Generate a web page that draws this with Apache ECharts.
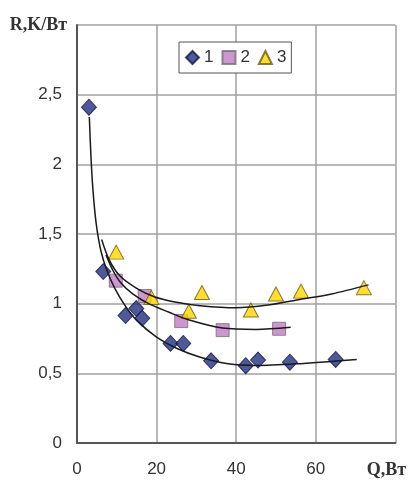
<!DOCTYPE html>
<html>
<head>
<meta charset="utf-8">
<script src="https://cdn.jsdelivr.net/npm/echarts@6/dist/echarts.min.js"></script>
<style>
  html, body { margin: 0; padding: 0; background: #fff; }
  #chart { width: 409px; height: 480px; }
</style>
</head>
<body>
<div id="chart"></div>
<script>
// Measured points: thermal resistance R (K/W) versus heat load Q (W)
var q1 = [3, 6.6, 12.2, 14.9, 16.4, 23.5, 26.7, 33.7, 42.4, 45.5, 53.5, 65.0];
var r1 = [2.41, 1.23, 0.915, 0.965, 0.895, 0.715, 0.715, 0.59, 0.555, 0.595, 0.58, 0.60];

var q2 = [9.75, 17.0, 26.2, 36.6, 50.8];
var r2 = [1.165, 1.055, 0.875, 0.81, 0.82];

var q3 = [9.85, 18.7, 28.1, 31.4, 43.7, 50.0, 56.3, 72.1];
var r3 = [1.37, 1.045, 0.945, 1.08, 0.955, 1.07, 1.09, 1.115];

// Approximating curves for each data set
var t1q = [3.1, 3.5, 4.0, 4.8, 6.0, 7.5, 9.5, 12, 15, 20, 25, 31, 38, 45, 55, 70.3];
var t1r = [2.34, 2.06, 1.82, 1.58, 1.38, 1.24, 1.11, 0.99, 0.88, 0.76, 0.68, 0.615, 0.568, 0.556, 0.568, 0.60];

var t2q = [7.3, 9, 11, 14, 18, 23, 28, 36.6, 45, 53.7];
var t2r = [1.35, 1.24, 1.15, 1.07, 1.0, 0.94, 0.885, 0.825, 0.815, 0.83];

var t3q = [6.2, 8, 10.75, 15, 19.4, 25, 31, 40, 48, 56, 64, 73.25];
var t3r = [1.46, 1.32, 1.2, 1.11, 1.05, 1.01, 0.985, 0.97, 0.99, 1.03, 1.07, 1.135];

var seriesNames = ['1', '2', '3'];
var xTicks = [0, 20, 40, 60, 80];
var yTicks = [0, 0.5, 1, 1.5, 2, 2.5, 3];

function pairs(xs, ys) {
  return xs.map(function (x, i) { return [x, ys[i]]; });
}

function trend(xs, ys) {
  return {
    type: 'line',
    data: pairs(xs, ys),
    showSymbol: false,
    smooth: 0.3,
    lineStyle: { color: '#1a1a1a', width: 1.5 },
    z: 5,
    silent: true
  };
}

var chart = echarts.init(document.getElementById('chart'), null, { renderer: 'canvas' });

chart.setOption({
  animation: false,
  backgroundColor: '#ffffff',
  grid: { left: 77, right: 12, top: 25, bottom: 37 },
  legend: {
    data: seriesNames,
    left: 179,
    top: 42,
    padding: [7, 5, 7, 6],
    itemGap: 8,
    itemWidth: 13,
    itemHeight: 13,
    borderColor: '#555',
    borderWidth: 1,
    backgroundColor: '#fff',
    textStyle: { fontFamily: 'Liberation Sans', fontSize: 17, color: '#333' }
  },
  xAxis: {
    type: 'value',
    min: xTicks[0],
    max: xTicks[xTicks.length - 1],
    interval: 20,
    axisLine: { show: true, onZero: false, lineStyle: { color: '#555', width: 2 } },
    axisTick: { show: false },
    splitLine: { show: true, lineStyle: { color: '#a0a0a0', width: 1.5 } },
    axisLabel: {
      margin: 18,
      fontFamily: 'Liberation Sans',
      fontSize: 17,
      color: '#333',
      formatter: function (v) {
        return v === 80 ? '{n|Q,Вт}' : String(v);
      },
      rich: {
        n: { fontFamily: 'Liberation Serif', fontWeight: 'bold', fontSize: 18, color: '#333', padding: [0, 18, 0, 0] }
      }
    }
  },
  yAxis: {
    type: 'value',
    min: yTicks[0],
    max: yTicks[yTicks.length - 1],
    interval: 0.5,
    name: 'R,K/Вт',
    nameLocation: 'end',
    nameGap: 0,
    nameTextStyle: {
      fontFamily: 'Liberation Serif',
      fontWeight: 'bold',
      fontSize: 18,
      color: '#333',
      align: 'right',
      verticalAlign: 'middle',
      padding: [0, 10, 0, 0]
    },
    axisLine: { show: true, onZero: false, lineStyle: { color: '#555', width: 2 } },
    axisTick: { show: false },
    splitLine: { show: true, lineStyle: { color: '#a0a0a0', width: 1.5 } },
    axisLabel: {
      margin: 15,
      fontFamily: 'Liberation Sans',
      fontSize: 17,
      color: '#333',
      formatter: function (v) {
        return v === 3 ? '' : String(v).replace('.', ',');
      }
    }
  },
  series: [
    {
      name: seriesNames[0],
      type: 'scatter',
      symbol: 'diamond',
      symbolSize: [15, 16],
      itemStyle: { color: '#22307f', borderColor: '#15184a', borderWidth: 1 },
      data: pairs(q1, r1),
      z: 3
    },
    {
      name: seriesNames[1],
      type: 'scatter',
      symbol: 'rect',
      symbolSize: 13,
      itemStyle: { color: '#c07cc4', borderColor: '#7a6a7a', borderWidth: 1 },
      data: pairs(q2, r2),
      z: 3
    },
    {
      name: seriesNames[2],
      type: 'scatter',
      symbol: 'triangle',
      symbolSize: [15, 14],
      itemStyle: { color: '#ffd400', borderColor: '#6b5a10', borderWidth: 1 },
      data: pairs(q3, r3),
      z: 3
    },
    trend(t1q, t1r),
    trend(t2q, t2r),
    trend(t3q, t3r)
  ]
});
</script>
</body>
</html>
